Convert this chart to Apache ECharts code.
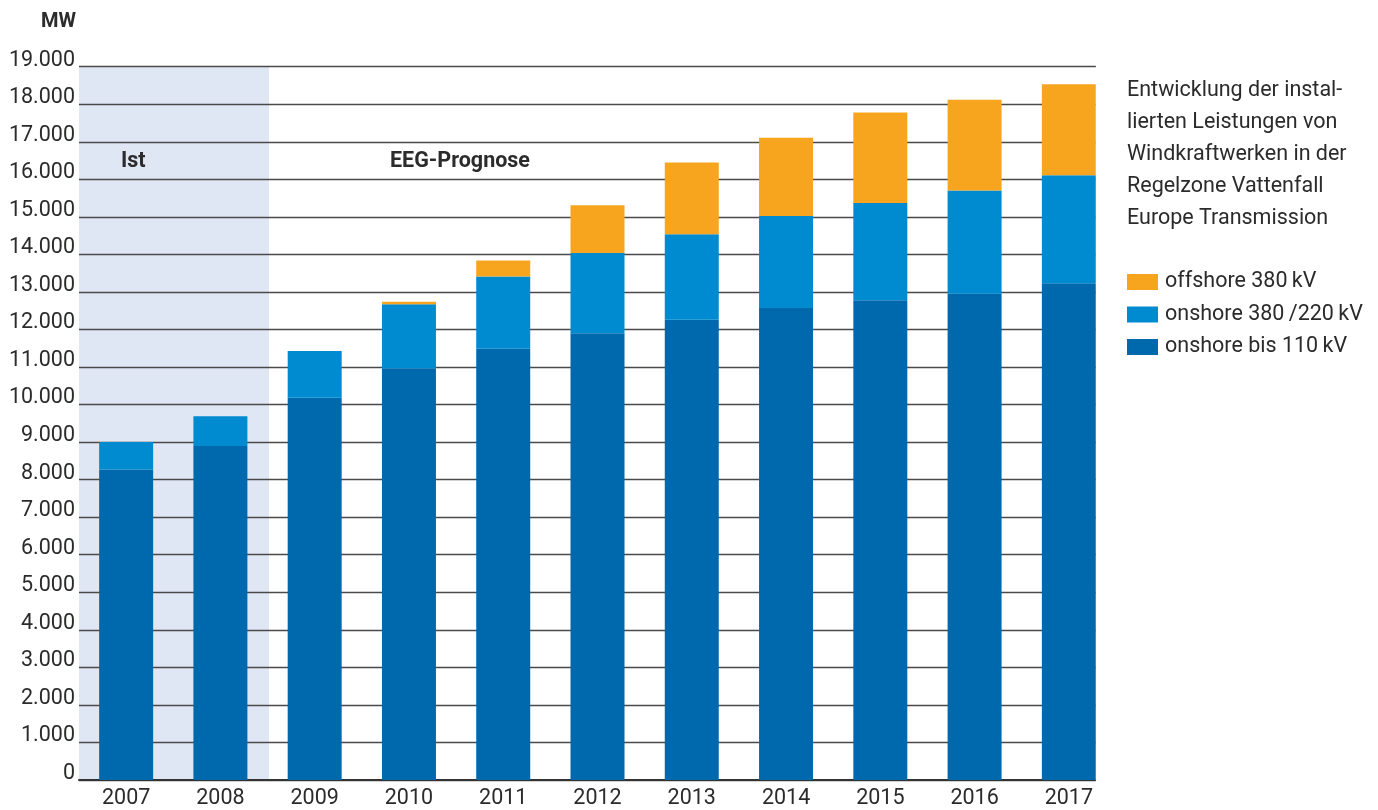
<!DOCTYPE html>
<html>
<head>
<meta charset="utf-8">
<script src="https://cdn.jsdelivr.net/npm/echarts@6/dist/echarts.min.js"></script>
<style>
html,body{margin:0;padding:0;background:#fff;}
#chart{width:1378px;height:810px;}
</style>
</head>
<body>
<div id="chart"></div>
<script>
const years = ['2007','2008','2009','2010','2011','2012','2013','2014','2015','2016','2017'];
const onshore110 = [8270, 8900, 10180, 10970, 11490, 11900, 12260, 12570, 12780, 12950, 13230];
const onshore380 = [730, 790, 1250, 1700, 1920, 2140, 2280, 2450, 2590, 2750, 2880];
const offshore380 = [0, 0, 0, 70, 430, 1270, 1910, 2090, 2410, 2420, 2420];
const seriesNames = ['onshore bis 110\u2009kV', 'onshore 380\u2009/220\u2009kV', 'offshore 380\u2009kV'];
const legendOrder = [seriesNames[2], seriesNames[1], seriesNames[0]];
const titleLines = ['Entwicklung der instal-', 'lierten Leistungen von', 'Windkraftwerken in der', 'Regelzone Vattenfall', 'Europe Transmission'];
const yMax = 19000, yStep = 1000;
const istYears = ['2007','2008'];

const FONT = 'Roboto, "Noto Sans", sans-serif';
const chart = echarts.init(document.getElementById('chart'));
const colors = ['#0069AD', '#008BD0', '#F7A51F'];
const dataSets = [onshore110, onshore380, offshore380];

const option = {
  animation: false,
  textStyle: {fontFamily: FONT},
  grid: {left: 79, right: 262, top: 66.7, bottom: 25.7, containLabel: false},
  title: {
    text: titleLines.join('\n'),
    left: 1127, top: 75, padding: 0,
    textStyle: {fontFamily: FONT, fontSize: 21.5, fontWeight: 'normal', color: '#2b2b2b', lineHeight: 32}
  },
  legend: {
    data: legendOrder,
    orient: 'vertical',
    left: 1127, top: 271, padding: 0,
    itemWidth: 31, itemHeight: 16, itemGap: 10.5,
    icon: 'rect',
    textStyle: {fontFamily: FONT, fontSize: 21.5, color: '#2b2b2b', padding: [0,0,0,2]}
  },
  xAxis: {
    type: 'category',
    data: years,
    axisTick: {show: false},
    axisLine: {lineStyle: {color: '#333', width: 2}},
    axisLabel: {fontFamily: FONT, fontSize: 21.5, color: '#2b2b2b', margin: 8}
  },
  yAxis: {
    type: 'value',
    min: 0, max: yMax, interval: yStep,
    axisLine: {show: false},
    axisTick: {show: false},
    splitLine: {lineStyle: {color: '#4a4a4a', width: 1.4}},
    axisLabel: {
      fontFamily: FONT, fontSize: 21.5, color: '#2b2b2b', margin: 4,
      verticalAlign: 'bottom', lineHeight: 13,
      formatter: v => v === 0 ? '0' : (v/1000).toFixed(3)
    }
  },
  series: dataSets.map((d, i) => ({
    name: seriesNames[i],
    type: 'bar',
    stack: 'total',
    barWidth: 54,
    data: d,
    itemStyle: {color: colors[i]},
    z: 3
  }))
};
chart.setOption(option);

function drawExtras() {
  const x0 = chart.convertToPixel({xAxisIndex: 0}, istYears[0]);
  const x1 = chart.convertToPixel({xAxisIndex: 0}, istYears[istYears.length-1]);
  const xLast = chart.convertToPixel({xAxisIndex: 0}, years[years.length-1]);
  const band = chart.convertToPixel({xAxisIndex: 0}, years[1]) - x0;
  const yTop = chart.convertToPixel({yAxisIndex: 0}, yMax);
  const yBot = chart.convertToPixel({yAxisIndex: 0}, 0);
  const left = x0 - band/2;
  const right = x1 + band/2 + 1.5;
  const plotEnd = xLast + 27;
  chart.setOption({
    graphic: [
      {type: 'rect', z: -10, silent: true,
       shape: {x: left, y: yTop, width: right - left, height: yBot - yTop},
       style: {fill: '#E0E7F4'}},
      {type: 'rect', z: 100, silent: true,
       shape: {x: plotEnd, y: yTop - 5, width: 1120 - plotEnd, height: yBot - yTop + 10},
       style: {fill: '#fff'}},
      {type: 'text', z: 100, left: 41, top: 12,
       style: {text: 'MW', font: 'bold 20px ' + FONT, fill: '#2b2b2b'}},
      {type: 'text', z: 100, left: 121, top: 151,
       style: {text: 'Ist', font: 'bold 21.5px ' + FONT, fill: '#2b2b2b'}},
      {type: 'text', z: 100, left: 390, top: 151,
       style: {text: 'EEG-Prognose', font: 'bold 21.5px ' + FONT, fill: '#2b2b2b'}}
    ]
  });
}
drawExtras();
</script>
</body>
</html>
